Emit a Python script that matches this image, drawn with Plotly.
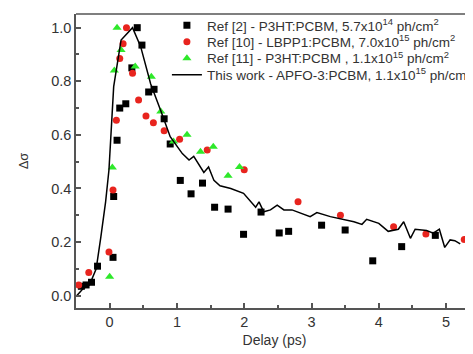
import plotly.graph_objects as go

# Ref [2] - black squares
ref2_x = [-0.42, -0.35, -0.27, -0.18, 0.05, 0.06, 0.11, 0.15, 0.24, 0.33, 0.41, 0.48, 0.58, 0.66, 0.81, 0.90,
          1.05, 1.21, 1.38, 1.56, 1.76, 1.99, 2.25, 2.52, 2.66, 3.15, 3.50, 3.91, 4.34, 4.84]
ref2_y = [0.035, 0.04, 0.05, 0.11, 0.143, 0.37, 0.58, 0.70, 0.716, 0.85, 1.0, 0.935, 0.76, 0.77, 0.66, 0.566,
          0.43, 0.38, 0.42, 0.33, 0.323, 0.229, 0.312, 0.234, 0.24, 0.263, 0.245, 0.13, 0.183, 0.225]

# Ref [10] - red circles
ref10_x = [-0.46, -0.31, -0.01, 0.05, 0.10, 0.15, 0.20, 0.25, 0.34, 0.43, 0.54, 0.65, 0.81, 1.04, 1.45,
           2.00, 2.80, 3.43, 4.22, 4.70, 5.27]
ref10_y = [0.04, 0.086, 0.163, 0.394, 0.655, 0.885, 0.94, 1.0, 0.83, 0.73, 0.67, 0.645, 0.615, 0.584, 0.544,
           0.47, 0.35, 0.30, 0.257, 0.23, 0.21]

# Ref [11] - green triangles
ref11_x = [0.0, 0.04, 0.07, 0.11, 0.17, 0.38, 0.62, 0.76, 0.95, 1.15, 1.35, 1.54, 1.76, 1.93]
ref11_y = [0.071, 0.478, 0.84, 1.0, 0.917, 0.855, 0.817, 0.687, 0.575, 0.60, 0.537, 0.556, 0.447, 0.48]

# This work - line
work_x = [-0.49, -0.4, -0.3, -0.2, -0.13, -0.06, -0.01, 0.06, 0.17, 0.34, 0.46, 0.61, 0.76, 0.90, 1.08,
          1.18, 1.25, 1.40, 1.47, 1.55, 1.64, 1.80, 1.99, 2.17, 2.22, 2.29, 2.39, 2.49, 2.59, 2.71,
          2.98, 3.08, 3.28, 3.48, 3.63, 3.75, 3.82, 4.00, 4.14, 4.29, 4.37, 4.47, 4.54, 4.71, 4.81,
          4.90, 4.98, 5.06, 5.13, 5.21]
work_y = [0.0, 0.025, 0.04, 0.10, 0.22, 0.35, 0.47, 0.78, 0.954, 1.0, 0.93, 0.79, 0.69, 0.593, 0.53,
          0.506, 0.52, 0.46, 0.48, 0.43, 0.41, 0.40, 0.382, 0.33, 0.35, 0.313, 0.32, 0.338, 0.32, 0.32,
          0.295, 0.31, 0.295, 0.285, 0.276, 0.266, 0.285, 0.27, 0.24, 0.248, 0.276, 0.214, 0.248, 0.243, 0.233,
          0.248, 0.18, 0.208, 0.205, 0.193]

labels = [
    "Ref [2] - P3HT:PCBM, 5.7x10<sup>14</sup> ph/cm<sup>2</sup>",
    "Ref [10] - LBPP1:PCBM, 7.0x10<sup>15</sup> ph/cm<sup>2</sup>",
    "Ref [11] - P3HT:PCBM , 1.1x10<sup>15</sup> ph/cm<sup>2</sup>",
    "This work - APFO-3:PCBM, 1.1x10<sup>15</sup> ph/cm<sup>2</sup>",
]

FONT = "Liberation Sans, Arial"

fig = go.Figure()
fig.add_trace(go.Scatter(x=ref2_x, y=ref2_y, mode="markers", name=labels[0], legend="legend",
                         showlegend=True,
                         marker=dict(symbol="square", size=7, color="black")))
fig.add_trace(go.Scatter(x=ref10_x, y=ref10_y, mode="markers", name=labels[1], legend="legend2",
                         marker=dict(symbol="circle", size=7, color="#e8241e")))
fig.add_trace(go.Scatter(x=ref11_x, y=ref11_y, mode="markers", name=labels[2], legend="legend3",
                         marker=dict(symbol="triangle-up", size=8, color="#2ee82a")))
fig.add_trace(go.Scatter(x=work_x, y=work_y, mode="lines", name=labels[3], legend="legend4",
                         line=dict(color="black", width=1.5)))

axis_common = dict(showline=True, linecolor="#555", linewidth=1.5, ticks="inside", ticklen=5,
                   tickcolor="#555", tickwidth=1.5, showgrid=False, zeroline=False,
                   tickfont=dict(family=FONT, size=14.5, color="#333"))

fig.update_xaxes(range=[-0.5, 5.4], dtick=1, tick0=0,
                 minor=dict(dtick=0.5, ticks="inside", ticklen=3, tickcolor="#555"),
                 title=dict(text="Delay (ps)", font=dict(family=FONT, size=14, color="#333"),
                            standoff=6),
                 **axis_common)
fig.update_yaxes(range=[-0.046, 1.051], dtick=0.2, tick0=0, tickformat=".1f",
                 minor=dict(dtick=0.1, ticks="inside", ticklen=3, tickcolor="#555"),
                 title=dict(text="Δσ", font=dict(family=FONT, size=13, color="#333"),
                            standoff=20),
                 **axis_common)

fig.add_shape(type="line", xref="paper", yref="paper", x0=0, x1=1, y0=1, y1=1,
              line=dict(color="#555", width=1.5))

leg_common = dict(x=0.229, xanchor="left", yanchor="middle",
                  font=dict(family=FONT, size=13.5, color="#333"),
                  bgcolor="rgba(0,0,0,0)", itemwidth=30)

fig.update_layout(
    width=465, height=346,
    showlegend=True,
    margin=dict(l=68, r=0, t=6, b=46, autoexpand=False),
    plot_bgcolor="white", paper_bgcolor="white",
    font=dict(family=FONT, color="#333"),
    legend=dict(y=0.961, **leg_common),
    legend2=dict(y=0.905, **leg_common),
    legend3=dict(y=0.849, **leg_common),
    legend4=dict(y=0.7925, **leg_common),
)

fig.write_html("out.html")
